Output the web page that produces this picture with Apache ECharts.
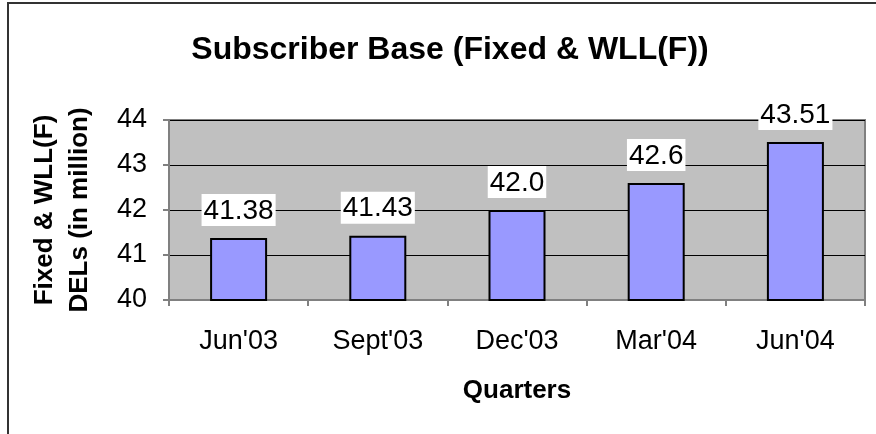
<!DOCTYPE html>
<html>
<head>
<meta charset="utf-8">
<script src="https://cdn.jsdelivr.net/npm/echarts@6/dist/echarts.min.js"></script>
<style>
  html, body { margin: 0; padding: 0; background: #fff; }
  #chart { width: 876px; height: 434px; }
</style>
</head>
<body>
<div id="chart"></div>
<script>
const quarters = ["Jun'03", "Sept'03", "Dec'03", "Mar'04", "Jun'04"];
const subscribers = [41.38, 41.43, 42.0, 42.6, 43.51];
const valueLabels = ['41.38', '41.43', '42.0', '42.6', '43.51'];

const FONT = '"Liberation Sans", Arial, sans-serif';
const chart = echarts.init(document.getElementById('chart'), null, { renderer: 'canvas' });

chart.setOption({
  backgroundColor: '#fff',
  animation: false,
  title: {
    text: 'Subscriber Base (Fixed & WLL(F))',
    left: 445, top: 29, textAlign: 'center',
    textStyle: { fontFamily: FONT, fontSize: 32, fontWeight: 'bold', color: '#000' },
  },
  graphic: [
    { type: 'polyline', shape: { points: [[8, 434], [8, 3], [876, 3]] },
      style: { stroke: '#333', lineWidth: 2, fill: null } },
  ],
  grid: {
    left: 169, right: 11, top: 120, bottom: 134,
    show: true, backgroundColor: '#c0c0c0', borderColor: '#808080', borderWidth: 2,
  },
  xAxis: {
    type: 'category', data: quarters,
    name: 'Quarters', nameLocation: 'middle', nameGap: 78,
    nameTextStyle: { fontFamily: FONT, fontSize: 26, fontWeight: 'bold', color: '#000' },
    axisLine: { lineStyle: { color: '#808080', width: 2 } },
    axisTick: { show: true, alignWithLabel: false, length: 6, lineStyle: { color: '#808080', width: 2 } },
    axisLabel: { fontFamily: FONT, fontSize: 27, color: '#000', margin: 28 },
  },
  yAxis: {
    type: 'value', min: 40, max: 44, interval: 1,
    name: 'Fixed & WLL(F)\nDELs (in million)', nameLocation: 'middle', nameRotate: 90, nameGap: 72,
    nameTextStyle: { fontFamily: FONT, fontSize: 26, fontWeight: 'bold', color: '#000', lineHeight: 35 },
    axisLine: { show: true, lineStyle: { color: '#808080', width: 2 } },
    axisTick: { show: true, length: 6, lineStyle: { color: '#808080', width: 2 } },
    axisLabel: { fontFamily: FONT, fontSize: 27, color: '#000', margin: 22 },
    splitLine: { lineStyle: { color: '#000', width: 1 } },
  },
  series: [{
    type: 'bar',
    data: subscribers,
    barWidth: 57,
    itemStyle: { color: '#9999ff', borderColor: '#000', borderWidth: 2 },
    label: {
      show: true, position: 'top', distance: 12,
      formatter: p => valueLabels[p.dataIndex],
      fontFamily: FONT, fontSize: 28, color: '#000',
      backgroundColor: '#fff', padding: [3, 2, 1, 2],
    },
  }],
});
</script>
</body>
</html>
